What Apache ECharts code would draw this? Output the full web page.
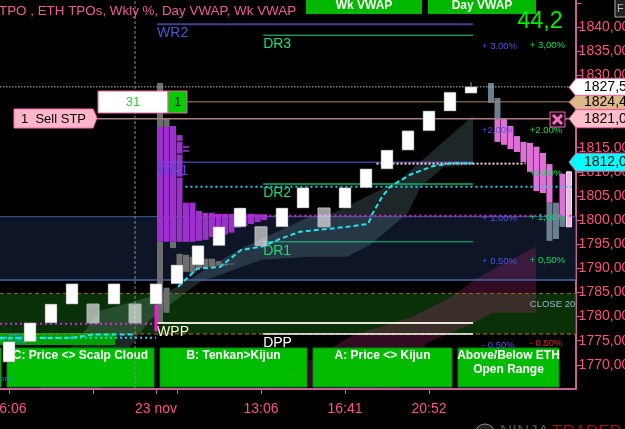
<!DOCTYPE html>
<html><head><meta charset="utf-8">
<style>html,body{margin:0;padding:0;background:#000;overflow:hidden}#c{width:625px;height:429px}</style>
<script src="https://cdn.jsdelivr.net/npm/echarts@6/dist/echarts.min.js"></script>
</head><body><div id="c"></div>
<script>
// ---- data ----
const xTickLabels = {0:'16:06',7:'23 nov',12:'13:06',16:'16:41',20:'20:52'};
const xTicks = [0,4,7,8,12,16,20];
const yLabels = [1770,1775,1780,1785,1790,1795,1800,1805,1810,1815,1820,1825,1830,1835,1840];
const yTicks = [1770,1775,1780,1785,1790,1795,1800,1805,1810,1815,1820,1825,1830,1835,1840,1845];
const brickLow  = [1770.6,1774.8,1778.7,1782.6,1778.7,1782.6,1778.7,1782.6,1786.8,1790.7,1794.7,1798.6,1794.7,1798.6,1802.5,1798.6,1802.5,1806.7,1810.6,1814.5,1818.5,1822.6,1826.3];
const brickHigh = [1774.8,1778.7,1782.6,1786.8,1782.6,1786.8,1782.6,1786.8,1790.7,1794.7,1798.6,1802.5,1798.6,1802.5,1806.7,1802.5,1806.7,1810.6,1814.5,1818.5,1822.6,1826.5,1827.6];
const brickGrey = [4,6,12,15];
const lastWick = [22,1827.6,1828.6];
// TPO profile columns, [top, bottom]
const tpoPurple = [[1819.3,1795.5],[1819.3,1795.5],[1819.5,1795.5],[1817.6,1795.5],[1803.6,1795.5],[1803.6,1795.5],[1801.9,1795.7],[1801.5,1795.9],[1801.5,1796.5],[1801.3,1796.7],[1801.3,1797],[1801.3,1797.4],[1801.3,1798.4],[1801.3,1798.8],[1801.3,1799.2],[1801.2,1799.6],[1801.2,1800]];
const tpoPurpleTicks = [[3,1816.4],[3,1813.8],[3,1809],[4,1815.3],[4,1814.5]];
const tpoGrey = [[1828.4,1819.3],[1821,1819.3],[1819.3,1819.3]];
const tpoGreyLow = [[1795.5,1778.9],[1786,1780.8],[1795.5,1794.2],[1793,1789.1],[1792.8,1789.3],[1792.4,1789.1],[1792.2,1790],[1792,1790.1],[1792,1790.3],[1791.5,1790.6],[1791,1790.6],[1791,1790.8]];
const rightPink = [null,[1821,1816.2],[1821,1815.6],[1819.5,1814.7],[1817.4,1814.1],[1816.2,1812],[1816,1810],[1815.2,1806],[1813.9,1805.6],[1811.6,1803.6],null,[1809.6,1800.7],null];
const rightLight = [null,null,null,null,null,null,null,null,null,null,null,null,[1810,1798.6]];
const rightGrey = [[1828.4,1824.3],[1825.3,1821],null,null,null,null,null,null,null,[1803.6,1795.7],[1803.6,1796.1],[1800.7,1798.6],null];
const levelNames = ['WR2','DR3','WR1','DR2','DR1','WPP','DPP'];
const levelPrices = [1840.6,1838.3,1812.0,1807.5,1795.5,1778.7,1776.4];
const levelFrom = [7.05,12.1,7.05,12.1,12.1,7.05,12.1];
const levelTo = 22.1;
const vwapDay = [[8.05,1786.2],[8.95,1789.9],[10.05,1790.3],[11.05,1793.8],[12.05,1794.5],[12.9,1796.1],[13.86,1797.6],[14.33,1797.8],[16.1,1798.6],[17.1,1799.2],[17.33,1801.5],[17.76,1804.8],[18.14,1806.9],[19.1,1809.4],[20.2,1811.2],[21.15,1811.8],[22.1,1811.8]];
const vwapPrev = [[-0.43,1775.5],[3,1775.6],[4,1776.3],[6,1776.3]];
const cloudGrey = [[1.48,1765.1],[4.33,1781.2],[7.05,1784.5],[8.05,1786.2],[9.7,1790.7],[11.1,1794.2],[14.3,1800.7],[15.5,1801.5],[18.6,1808.3],[22.1,1821.6],[22.1,1811.4],[20.7,1811],[19.6,1806.9],[19,1801.5],[17.2,1794.9],[16.1,1792.4],[14.3,1792.4],[12.05,1791.8],[9.1,1787.2],[6.7,1779.3],[4.33,1765.1]];
const cloudPink = [[12.2,1765.5],[16.4,1776.2],[19.1,1779.8],[21,1783.9],[22.3,1788],[25.1,1794.5],[25.1,1780.8],[23.05,1780.8],[21.95,1778.3],[19.9,1774.6],[18.6,1765.1]];
const flagPrices = [1827.5,1824.4,1821.0,1812.0];
const flagText = ['1827,50','1824,40','1821,00','1812,00'];
const pctText = ['+ 3.00%','+ 3,00%','+2.00%','+2.00%','+1.50%','+ 1.00%','+ 1,00%','+ 0.50%','+ 0,50%','- 0.50%','- 0.50%','CLOSE 20'];
const pctX = [22.52,24.8,22.52,24.8,24.8,22.52,24.8,22.52,24.8,22.52,24.8,24.8];
const pctY = [1836,1836.2,1818.5,1818.5,1809.6,1800.4,1800.6,1791.5,1791.7,1774,1774.4,1782.5];
const pctKind = [0,1,0,1,1,0,1,0,1,0,2,3];
const title = 'TPO , ETH TPOs, Wkly %, Day VWAP, Wk VWAP';
const buttons = ['C: Price <> Scalp Cloud','B: Tenkan>Kijun','A: Price <> Kijun','Above/Below ETH\nOpen Range'];

// ---- styles ----
const FONT = '"Liberation Sans",Arial,sans-serif';
const AX = '#c8609c', LBL = '#ff5078';
const kindCol = ['#5252e6','#00e060','#e82800','#9fb4c4'];
const levelCol = ['#3f3f8c','#20d888','#6a58e0','#10b060','#18c878','#e8e4d8','#ffffff'];
const levelW = [2,1,1,1.5,1,2,1.5];
const textCol = ['#4a58d0','#10e078','#5a48d8','#10e070','#10e070','#fff4dc','#ffffff'];
const tpoX0 = 7.19, tpoStep = 0.3095, rightX0 = 22.95;

const rectOf = (api,x,top,bot,w) => {
  const a = api.coord([x,top]), b = api.coord([x,bot]);
  return {x:a[0]-w/2,y:a[1],width:w,height:Math.max(b[1]-a[1],1)};
};
const rangeSeries = (arr,x0,fill,z,w=6,stroke) => ({
  type:'custom',z,clip:true,data:arr.map((r,i)=>[i]),
  renderItem:(p,api)=>{const r=arr[p.dataIndex]; if(!r) return null;
    return {type:'rect',shape:rectOf(api,x0+p.dataIndex*tpoStep,r[0],r[1],w),style:{fill,stroke:stroke||null,lineWidth:1}};}
});
const polySeries = (pts,fill,z) => ({
  type:'custom',z,clip:true,data:[[0]],
  renderItem:(p,api)=>({type:'polygon',shape:{points:pts.map(q=>api.coord(q))},style:{fill}})
});
const hline = (price,from,to,color,width,dash,z=3) => ({
  type:'line',z,silent:true,showSymbol:false,symbol:'none',animation:false,
  data:[[from,price],[to,price]],
  lineStyle:{color,width,type:dash||'solid'}
});
const band = (hi,lo,fill) => ({
  type:'custom',z:1,clip:true,data:[[0]],
  renderItem:(p,api)=>{const a=api.coord([-0.43,hi]),b=api.coord([26.98,lo]);
    return {type:'rect',shape:{x:a[0],y:a[1],width:b[0]-a[0],height:b[1]-a[1]},style:{fill}};}
});

const series = [
  band(1800.7,1787.6,'#0d1526'),
  band(1784.8,1776.4,'#0a3008'),
  hline(1800.7,-0.43,26.98,'#3f5f9f',1),
  hline(1787.6,-0.43,26.98,'#4468a8',1.5),
  hline(1784.8,-0.43,26.98,'#9a6a10',1,[4,3]),
  hline(1776.4,-0.43,26.98,'#b07a10',1,[4,3]),
  polySeries(cloudGrey,'rgba(150,195,195,0.2)',2),
  polySeries(cloudPink,'rgba(190,40,130,0.27)',2),
  rangeSeries(tpoGrey,tpoX0,'#6e6e6e',4),
  rangeSeries(tpoGreyLow,tpoX0,'#6e6e6e',4),
  rangeSeries(tpoPurple,tpoX0,'#9c30cc',4),
  {type:'custom',z:4,clip:true,data:tpoPurpleTicks.map((r,i)=>[i]),
   renderItem:(p,api)=>{const r=tpoPurpleTicks[p.dataIndex];const c=api.coord([tpoX0+r[0]*tpoStep,r[1]]);
     return r[0]===3?{type:'rect',shape:{x:c[0]-3,y:c[1],width:6,height:1},style:{fill:'#000'}}:{type:'rect',shape:{x:c[0]-3,y:c[1],width:6,height:1.6},style:{fill:'#9c30cc'}};}},
  rangeSeries(rightGrey,rightX0,'#6c7f92',4),
  rangeSeries(rightPink,rightX0,'#e070d8',4),
  rangeSeries(rightLight,rightX0,'#f0b4e6',4,5,'#ffe8f8'),
  hline(1827.6,-0.43,26.98,'#b8b8b8',1,[1.5,1.5],5),
  hline(1824.5,8.5,26.98,'#a88a5c',1,null,5),
  hline(1821,4.2,26.98,'#a88080',1.5,null,5),
  hline(1806.9,8.4,26.8,'#22ccee',2,[2,3],5),
  hline(1775.6,-0.43,7,'#22ccee',2,[2,3],5),
  hline(1778.5,-0.43,7,'#e020e0',2,[2,3],5),
  hline(1800.9,9.3,26.9,'#e020e0',2,[2,3],5),
  hline(1811.7,17.5,24.6,'#ffd8e0',2,[2,2],7),
  {type:'line',z:6,showSymbol:false,symbol:'none',data:[[6,1765],[6,1845.6]],lineStyle:{color:'#8a8a8a',width:1,type:[3,2]}},
  {type:'custom',z:5,clip:true,data:levelNames.map((n,i)=>[i]),
   renderItem:(p,api)=>{const i=p.dataIndex;const a=api.coord([levelFrom[i],levelPrices[i]]),b=api.coord([levelTo,levelPrices[i]]);
     return {type:'group',children:[
       {type:'line',shape:{x1:a[0],y1:a[1],x2:b[0],y2:b[1]},style:{stroke:levelCol[i],lineWidth:levelW[i]}},
       {type:'text',style:{x:a[0],y:a[1]+9,text:levelNames[i],fill:textCol[i],font:'14px '+FONT,textVerticalAlign:'middle'}}
     ]};}},
  {type:'custom',z:8,clip:true,data:brickLow.map((v,i)=>[i,v,brickHigh[i]]),
   renderItem:(p,api)=>{const i=p.dataIndex;const g=brickGrey.includes(i);
     return {type:'rect',shape:rectOf(api,i,brickHigh[i],brickLow[i],12),
       style:{fill:g?'rgba(255,255,255,0.62)':'#fff',stroke:g?'#bbb':'#777',lineWidth:g?1:.5}};}},
  {type:'line',z:8,showSymbol:false,symbol:'none',data:[[lastWick[0],lastWick[1]],[lastWick[0],lastWick[2]]],lineStyle:{color:'#999',width:1}},
  {type:'line',z:7,showSymbol:false,symbol:'none',data:vwapDay,lineStyle:{color:'#22e4ee',width:2,type:[5,3]}},
  {type:'line',z:7,showSymbol:false,symbol:'none',data:vwapPrev,lineStyle:{color:'#22e4ee',width:2,type:[5,3]}},
  {type:'line',z:7,showSymbol:false,symbol:'none',data:[[7,1782.4],[7,1776.9]],lineStyle:{color:'#ff10e0',width:3}},
  {type:'custom',z:9,clip:true,data:pctText.map((t,i)=>[pctX[i],pctY[i]]),
   renderItem:(p,api)=>{const i=p.dataIndex;const c=api.coord([pctX[i],pctY[i]]);
     return {type:'text',style:{x:c[0],y:c[1],text:pctText[i],fill:kindCol[pctKind[i]],font:'9.5px '+FONT,textVerticalAlign:'middle'}};}},
  {type:'custom',z:12,clip:false,data:flagPrices.map((v,i)=>[i,v]),
   renderItem:(p,api)=>{const i=p.dataIndex;const y=api.coord([0,flagPrices[i]])[1];
     const fills=['#ffffff','#deb887','#ffc0cb','#00ffff'];
     const h=i===1?7:9;
     return {type:'group',children:[
       {type:'polygon',shape:{points:[[569,y],[576,y-h],[630,y-h],[630,y+h],[576,y+h]]},style:{fill:fills[i],stroke:'#f060a0',lineWidth:1}},
       {type:'text',style:{x:584,y:y,text:flagText[i],fill:'#000',font:'14px '+FONT,textVerticalAlign:'middle'}}
     ]};}}
];

const box = (x,y,w,h,fill,stroke,z,lw=1)=>({type:'rect',z,shape:{x,y,width:w,height:h},style:{fill,stroke,lineWidth:lw}});
const txt = (x,y,text,fill,font,z,align='left')=>({type:'text',z,x,y,style:{text,fill,font,align,verticalAlign:'middle'}});
const seg = (x1,y1,x2,y2,stroke,lineWidth,z)=>({type:'line',z,shape:{x1,y1,x2,y2},style:{stroke,lineWidth}});
const btnRects = [[7,348,147,39],[160,348,147,39],[313,348,139,39],[458,348,101,39]];
const graphic = [
  ...btnRects.map((r,i)=>box(r[0],r[1],r[2],r[3],'rgba(0,200,0,0.94)','#008a10',3)),
  ...btnRects.map((r,i)=>({type:'text',z:4,x:r[0]+r[2]/2,y:349,style:{text:buttons[i],fill:'#fff',font:'bold 12px '+FONT,align:'center',verticalAlign:'top',lineHeight:13.5}})),
  box(-1,348,2,39,'#00c800','#008a10',3),
  box(-1,333,116,12,'#00a000',null,3),
  txt(0,339,'r Clo','#10a0e8','13px '+FONT,4),
  txt(0,379,'om','#1088d0','8px '+FONT,4),
  txt(-1,11,title,'#ee5c98','13.4px '+FONT,20),
  box(306,-1,116,15,'#00b800',null,20),
  box(428,-1,108,15,'#00b800',null,20),
  txt(364,6,'Wk VWAP','#fff','bold 12px '+FONT,21,'center'),
  txt(482,6,'Day VWAP','#fff','bold 12px '+FONT,21,'center'),
  txt(540,22,'44,2','#00f000','23.5px '+FONT,21,'center'),
  box(615,-1,12,18,'#222','#aaa',21),
  txt(617,9,'F','#bbb','11px '+FONT,22),
  box(98,91,70,22,'#fff','#f060a0',21),
  txt(133,102,'31','#38c838','13px '+FONT,22,'center'),
  box(168,91,19,22,'#00cc00','#f060a0',21),
  txt(177.5,102,'1','#000','13px '+FONT,22,'center'),
  {type:'polygon',z:21,shape:{points:[[14,109],[93,109],[97,118],[93,128],[14,128]]},style:{fill:'#ffb6c8',stroke:'#ff69b4',lineWidth:1}},
  txt(21,119,'1  Sell STP','#000','13px '+FONT,22),
  box(550,112,15,15,'#200018','#f060b0',21),
  seg(553,115,562,124,'#f070c0',3,22),
  seg(562,115,553,124,'#f070c0',3,22),
  {type:'circle',z:21,shape:{cx:485,cy:434,r:10},style:{fill:'#222',stroke:'#888',lineWidth:1}},
  txt(500,432,'NINJA','#505050','17px '+FONT,21),
  txt(552,432,'TRADER','#9a1010','17px '+FONT,21)
];

const chart = echarts.init(document.getElementById('c'),null,{renderer:'canvas',width:625,height:429});
chart.setOption({
  animation:false,backgroundColor:'#000',
  grid:{left:0,top:0,right:49.4,bottom:40,outerBoundsMode:'none',containLabel:false},
  xAxis:{type:'value',min:-0.43,max:26.98,splitLine:{show:false},
    axisLine:{show:true,onZero:false,lineStyle:{color:AX,width:2}},
    axisTick:{show:true,length:5,lineStyle:{color:AX},customValues:xTicks},
    axisLabel:{color:'#ff5088',fontSize:14,fontFamily:FONT,margin:13,hideOverlap:false,customValues:Object.keys(xTickLabels).map(Number),formatter:v=>xTickLabels[v]||''}},
  yAxis:{type:'value',position:'right',min:1765,max:1845.6,splitLine:{show:false},
    axisLine:{show:true,onZero:false,lineStyle:{color:AX,width:2}},
    axisTick:{show:true,length:6,lineStyle:{color:AX},customValues:yTicks},
    axisLabel:{color:LBL,fontSize:14,fontFamily:FONT,margin:3,customValues:yLabels,formatter:v=>v.toFixed(2).replace('.',',')}},
  series,graphic
});
</script></body></html>
